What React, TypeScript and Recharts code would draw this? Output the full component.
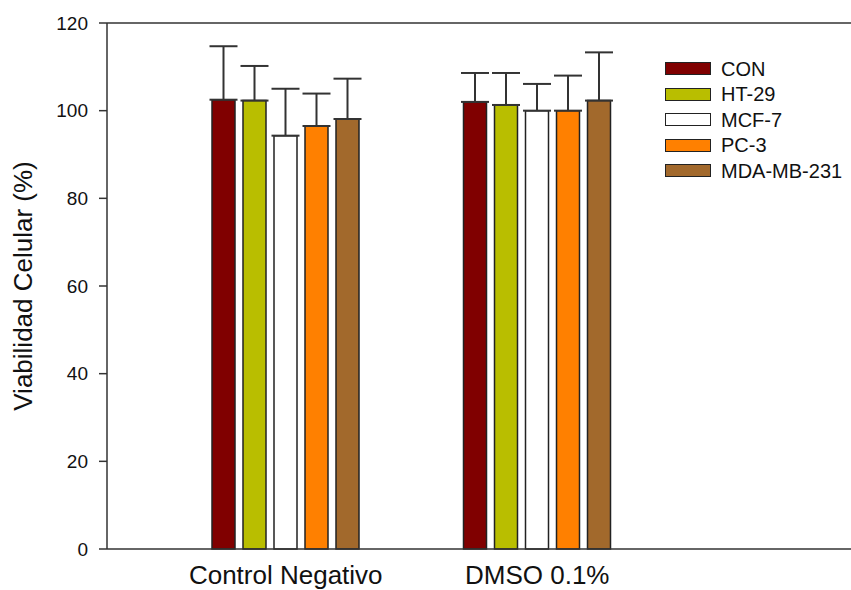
import React from 'react';
import {
  BarChart,
  Bar,
  XAxis,
  YAxis,
  ErrorBar,
  ReferenceLine,
} from 'recharts';

const groups = ['Control Negativo', 'DMSO 0.1%'];
const cellLines = ['CON', 'HT-29', 'MCF-7', 'PC-3', 'MDA-MB-231'];
const COLORS = ['#800000', '#b9be00', '#ffffff', '#ff8000', '#a2692c'];

// mean viability (%) per cell line, one value per group
const conMean = [102.5, 102.0];
const ht29Mean = [102.3, 101.3];
const mcf7Mean = [94.3, 100.0];
const pc3Mean = [96.5, 100.0];
const mdaMean = [98.1, 102.3];

// standard deviation, plotted upward only
const conSd = [12.2, 6.6];
const ht29Sd = [7.9, 7.3];
const mcf7Sd = [10.7, 6.1];
const pc3Sd = [7.4, 8.0];
const mdaSd = [9.2, 11.0];

const yTicks = [0, 20, 40, 60, 80, 100, 120];

const means = [conMean, ht29Mean, mcf7Mean, pc3Mean, mdaMean];
const sds = [conSd, ht29Sd, mcf7Sd, pc3Sd, mdaSd];

const data = groups.map((name, gi) => {
  const row: Record<string, any> = { name };
  cellLines.forEach((line, li) => {
    row[`v${li}`] = means[li][gi];
    row[`e${li}`] = [0, sds[li][gi]];
  });
  return row;
});

const FONT = '"Liberation Sans", Arial, sans-serif';

const LegendBox = () => (
  <div style={{ position: 'absolute', top: 56, left: 665, fontFamily: FONT }}>
    {cellLines.map((line, i) => (
      <div key={line} style={{ display: 'flex', alignItems: 'center', height: 25.5 }}>
        <div
          style={{
            width: 44,
            height: 11,
            background: COLORS[i],
            border: '1.5px solid #222',
          }}
        />
        <span style={{ marginLeft: 10, fontSize: 20, color: '#111', lineHeight: '20px' }}>{line}</span>
      </div>
    ))}
  </div>
);

export default function App() {
  return (
    <div style={{ position: 'fixed', top: 0, left: 0, width: 851, height: 590, background: '#fff' }}>
      <BarChart
        width={851}
        height={590}
        data={data}
        margin={{ top: 23, right: 0, left: 0, bottom: 0 }}
        barSize={23}
        barGap={8}
      >
        <XAxis
          dataKey="name"
          height={41}
          padding={{ left: 53, right: 188 }}
          tickLine={false}
          tickSize={0}
          tickMargin={17}
          stroke="#333"
          strokeWidth={1.5}
          tick={{ fill: '#111', fontSize: 26, fontFamily: FONT }}
        />
        <YAxis
          width={107}
          domain={[0, 120]}
          ticks={yTicks}
          tickSize={8}
          tickMargin={11}
          stroke="#333"
          strokeWidth={1.5}
          tick={{ fill: '#111', fontSize: 19, fontFamily: FONT }}
          label={{
            value: 'Viabilidad Celular (%)',
            angle: -90,
            position: 'center',
            dx: -31,
            style: { fill: '#111', fontSize: 26, fontFamily: FONT },
          }}
        />
        <ReferenceLine y={120} stroke="#333" strokeWidth={1.5} />
        {cellLines.map((line, i) => (
          <Bar
            key={line}
            dataKey={`v${i}`}
            name={line}
            fill={COLORS[i]}
            stroke="#222"
            strokeWidth={1.5}
            isAnimationActive={false}
          >
            <ErrorBar dataKey={`e${i}`} direction="y" width={14} stroke="#333" strokeWidth={2} />
          </Bar>
        ))}
      </BarChart>
      <LegendBox />
    </div>
  );
}
